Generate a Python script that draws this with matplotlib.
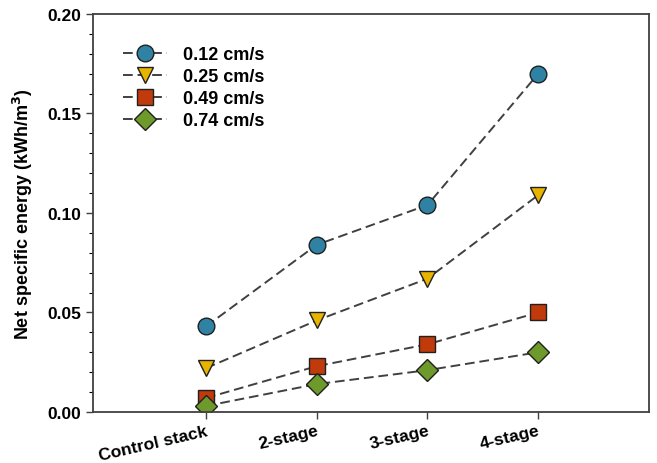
import numpy as np
import matplotlib.pyplot as plt

plt.rcParams['font.family'] = ['Liberation Sans', 'DejaVu Sans']
plt.rcParams['font.weight'] = 'bold'

stages = ["Control stack", "2-stage", "3-stage", "4-stage"]
labels = ["0.12 cm/s", "0.25 cm/s", "0.49 cm/s", "0.74 cm/s"]
v012 = [0.043, 0.084, 0.104, 0.170]
v025 = [0.022, 0.046, 0.067, 0.109]
v049 = [0.007, 0.023, 0.034, 0.050]
v074 = [0.003, 0.014, 0.021, 0.030]

series = [v012, v025, v049, v074]
markers = ['o', 'v', 's', 'D']
colors = ['#2f82a3', '#e8b400', '#c03a0c', '#6e9a2c']
sizes = [12, 12, 11, 11]

fig = plt.figure(figsize=(6.57, 4.64), dpi=100)
ax = fig.add_axes([0.1416, 0.110, 0.8462, 0.8577])

x = np.arange(len(stages))
for vals, lab, m, c, s in zip(series, labels, markers, colors, sizes):
    ax.plot(x, vals, linestyle=(0, (5, 2.5)), color='#404040', linewidth=1.4,
            marker=m, markersize=s, markerfacecolor=c, markeredgecolor='#202020',
            markeredgewidth=1.0, label=lab)

ax.set_xlim(-1.02, 4.0)
ax.set_ylim(0, 0.20)
ax.set_xticks(x)
ax.set_xticklabels(stages, rotation=13, ha='right', rotation_mode='anchor',
                   fontsize=12.5, fontweight='bold')
ax.set_yticks([0, 0.05, 0.10, 0.15, 0.20])
ax.set_yticklabels(["0.00", "0.05", "0.10", "0.15", "0.20"], fontsize=12.5, fontweight='bold')
ax.set_yticks(np.arange(0, 0.201, 0.01), minor=True)
ax.tick_params(axis='both', direction='out', length=5, width=1.0, color='#404040')
ax.tick_params(axis='y', which='minor', direction='out', length=3, width=0.8)
ax.tick_params(axis='x', pad=3)
for sp in ax.spines.values():
    sp.set_color('#404040')
    sp.set_linewidth(1.3)

ax.set_ylabel("Net specific energy (kWh/m$^\\mathbf{3}$)", fontsize=13, fontweight='bold', labelpad=9)

ax.legend(loc='upper left', bbox_to_anchor=(0.025, 0.96), frameon=False,
          handlelength=2.4, handletextpad=0.9, labelspacing=0.28,
          prop={'weight': 'bold', 'size': 13})

fig.savefig("out.png", dpi=100)
